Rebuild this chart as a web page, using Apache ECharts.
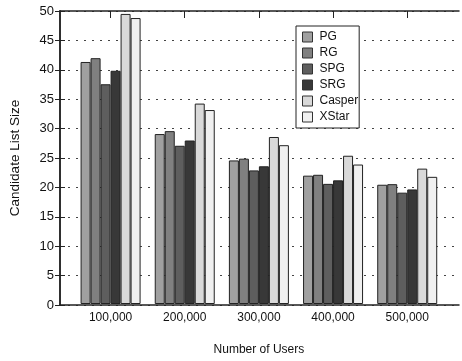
<!DOCTYPE html>
<html>
<head>
<meta charset="utf-8">
<script src="https://cdn.jsdelivr.net/npm/echarts@6/dist/echarts.min.js"></script>
<style>html,body{margin:0;padding:0;background:#fff;}#c{width:462px;height:361px;}</style>
</head>
<body>
<div id="c"></div>
<script>
const categories = ['100,000', '200,000', '300,000', '400,000', '500,000'];
const PG = [41.3, 29.0, 24.5, 21.9, 20.35];
const RG = [41.95, 29.5, 24.8, 22.05, 20.45];
const SPG = [37.5, 27.0, 22.8, 20.5, 19.0];
const SRG = [39.8, 27.9, 23.5, 21.1, 19.55];
const Casper = [49.5, 34.2, 28.5, 25.3, 23.1];
const XStar = [48.8, 33.1, 27.1, 23.8, 21.7];
const seriesNames = ['PG', 'RG', 'SPG', 'SRG', 'Casper', 'XStar'];
const seriesValues = [PG, RG, SPG, SRG, Casper, XStar];
const colors = ['#a0a0a0', '#808080', '#5e5e5e', '#383838', '#d9d9d9', '#f0f0f0'];
const yMin = 0, yMax = 50, yStep = 5;

const FONT = 'Liberation Sans';
const chart = echarts.init(document.getElementById('c'), null, {renderer: 'canvas'});
const option = {
  animation: false,
  backgroundColor: '#fff',
  textStyle: {fontFamily: FONT},
  grid: [
    {left: 59, top: 11, width: 400, height: 294, containLabel: false},
    {left: 73.5, top: 11, width: 370.8, height: 294, containLabel: false}
  ],
  legend: {
    orient: 'vertical',
    left: 296, top: 26,
    padding: [5, 1, 5, 6],
    itemWidth: 10, itemHeight: 10, itemGap: 4,
    icon: 'rect',
    backgroundColor: '#fff',
    borderColor: '#222', borderWidth: 1,
    textStyle: {fontFamily: FONT, fontSize: 12, color: '#111', padding: [0, 0, 0, 2]},
    itemStyle: {borderColor: '#333', borderWidth: 1},
    data: seriesNames,
    z: 10
  },
  xAxis: [
    {type: 'value', gridIndex: 0, min: 0, max: 1, position: 'bottom',
      axisLine: {show: true, onZero: false, lineStyle: {color: '#222', width: 1.5}},
      axisTick: {show: false}, axisLabel: {show: false}, splitLine: {show: false}},
    {type: 'value', gridIndex: 0, min: 0, max: 1, position: 'top',
      axisLine: {show: true, onZero: false, lineStyle: {color: '#222', width: 1.5}},
      axisTick: {show: false}, axisLabel: {show: false}, splitLine: {show: false}},
    {type: 'category', gridIndex: 1, data: categories, position: 'bottom',
      axisLine: {show: false}, axisTick: {show: false},
      axisLabel: {fontFamily: FONT, fontSize: 12, color: '#111', margin: 8},
      name: 'Number of Users', nameLocation: 'middle', nameGap: 40,
      nameTextStyle: {fontFamily: FONT, fontSize: 12, color: '#111'}},
    {type: 'category', gridIndex: 1, data: categories, position: 'top',
      axisLine: {show: false},
      axisTick: {show: true, inside: true, alignWithLabel: true, length: 7, lineStyle: {color: '#222', width: 1}},
      axisLabel: {show: false}}
  ],
  yAxis: [
    {type: 'value', gridIndex: 0, min: yMin, max: yMax, interval: yStep, position: 'left',
      axisLine: {show: true, lineStyle: {color: '#222', width: 1.5}},
      axisTick: {show: true, inside: true, length: 5, lineStyle: {color: '#222'}},
      axisLabel: {fontFamily: FONT, fontSize: 13, color: '#111', margin: 6},
      splitLine: {show: true, lineStyle: {color: '#444', width: 1, type: [2, 6]}},
      name: 'Candidate List Size', nameLocation: 'middle', nameGap: 38,
      nameTextStyle: {fontFamily: FONT, fontSize: 13.5, color: '#111'}},
    {type: 'value', gridIndex: 0, min: yMin, max: yMax, interval: yStep, position: 'right',
      axisLine: {show: true, lineStyle: {color: '#222', width: 1.5}},
      axisTick: {show: true, inside: true, length: 5, lineStyle: {color: '#222'}},
      axisLabel: {show: false}, splitLine: {show: false}},
    {type: 'value', gridIndex: 1, min: yMin, max: yMax, interval: yStep, show: false}
  ],
  series: seriesNames.map((name, i) => ({
    name: name,
    type: 'bar',
    xAxisIndex: 2,
    yAxisIndex: 2,
    data: seriesValues[i],
    barWidth: 10,
    barGap: '0%',
    itemStyle: {color: colors[i], borderColor: '#222', borderWidth: 1},
    z: 3
  }))
};
chart.setOption(option);
</script>
</body>
</html>
